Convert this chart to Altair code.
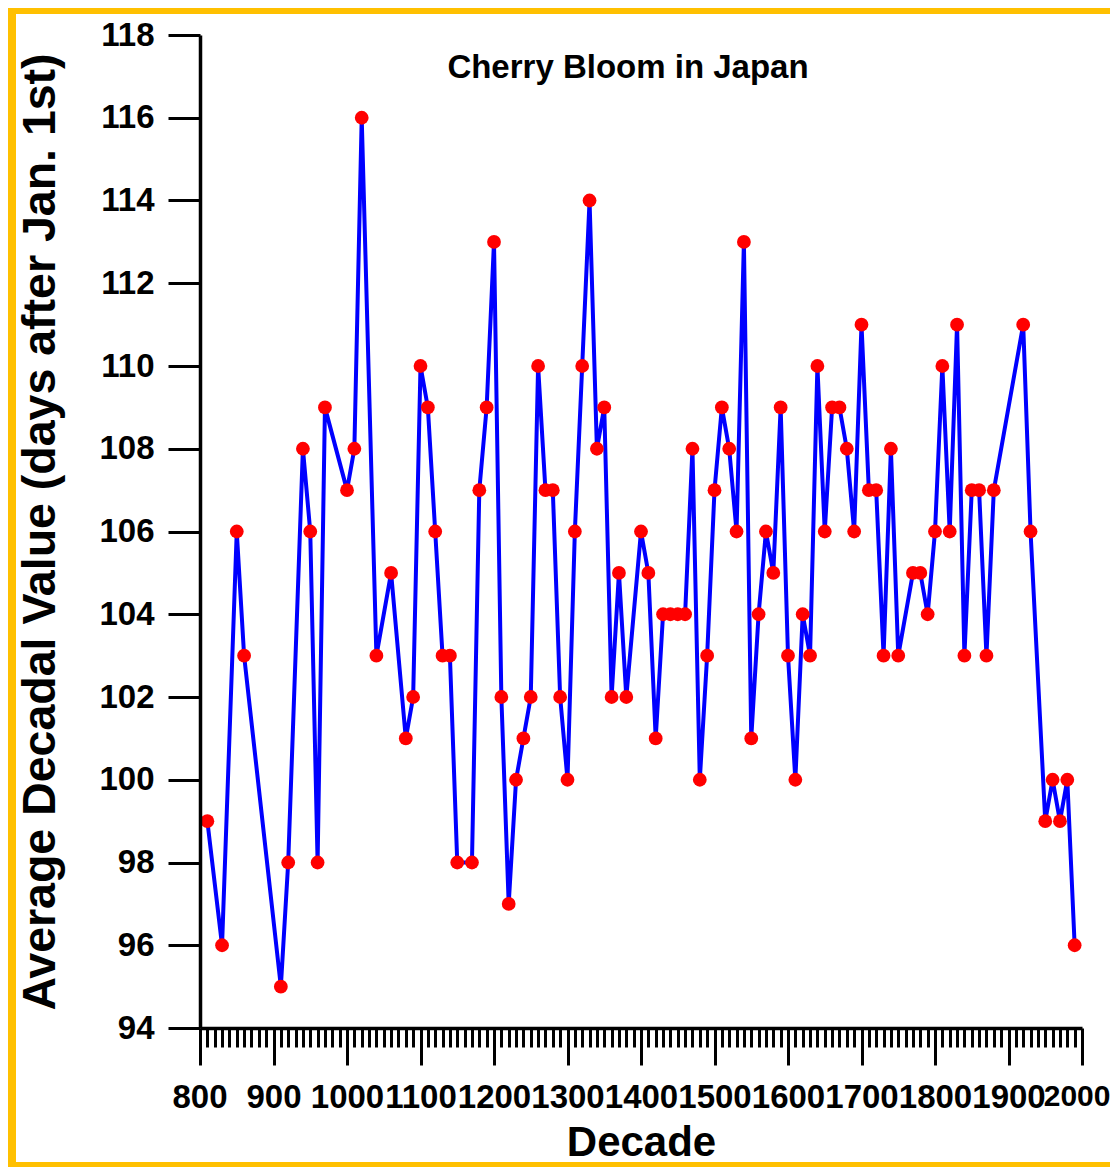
import altair as alt
import pandas as pd

decades = [810, 830, 850, 860, 910, 920, 940, 950, 960, 970,
           1000, 1010, 1020, 1040, 1060, 1080, 1090, 1100, 1110, 1120,
           1130, 1140, 1150, 1170, 1180, 1190, 1200, 1210, 1220, 1230,
           1240, 1250, 1260, 1270, 1280, 1290, 1300, 1310, 1320, 1330,
           1340, 1350, 1360, 1370, 1380, 1400, 1410, 1420, 1430, 1440,
           1450, 1460, 1470, 1480, 1490, 1500, 1510, 1520, 1530, 1540,
           1550, 1560, 1570, 1580, 1590, 1600, 1610, 1620, 1630, 1640,
           1650, 1660, 1670, 1680, 1690, 1700, 1710, 1720, 1730, 1740,
           1750, 1770, 1780, 1790, 1800, 1810, 1820, 1830, 1840, 1850,
           1860, 1870, 1880, 1920, 1930, 1950, 1960, 1970, 1980, 1990]
bloom_day = [99, 96, 106, 103, 95, 98, 108, 106, 98, 109,
             107, 108, 116, 103, 105, 101, 102, 110, 109, 106,
             103, 103, 98, 98, 107, 109, 113, 102, 97, 100,
             101, 102, 110, 107, 107, 102, 100, 106, 110, 114,
             108, 109, 102, 105, 102, 106, 105, 101, 104, 104,
             104, 104, 108, 100, 103, 107, 109, 108, 106, 113,
             101, 104, 106, 105, 109, 103, 100, 104, 103, 110,
             106, 109, 109, 108, 106, 111, 107, 107, 103, 108,
             103, 105, 105, 104, 106, 110, 106, 111, 103, 107,
             107, 103, 107, 111, 106, 99, 100, 99, 100, 96]

title_text = "Cherry Bloom in Japan"
x_title = "Decade"
y_title = "Average Decadal Value (days after Jan. 1st)"
y_ticks = list(range(94, 119, 2))
x_ticks = list(range(800, 2001, 10))

df = pd.DataFrame({"decade": decades, "value": bloom_day})

FONT = "Liberation Sans"
W, H = 882, 993

x_axis = alt.Axis(
    title=x_title,
    values=x_ticks,
    format="d",
    labelExpr="datum.value % 100 === 0 ? datum.label : ''",
    labelOverlap=False,
    labelFlush=True,
    labelFlushOffset=28,
    labelFont=FONT, labelFontWeight="bold", labelColor="black",
    labelFontSize={"condition": {"test": "datum.value === 2000", "value": 30}, "value": 33},
    labelPadding=16,
    tickSize={"condition": {"test": "datum.value % 100 === 0", "value": 37}, "value": 19},
    tickWidth=3, tickColor="black",
    domainColor="black", domainWidth=3.5,
    grid=False,
    titleFont=FONT, titleFontSize=42, titleFontWeight="bold", titleColor="black",
    titlePadding=8,
    zindex=1,
)
y_axis = alt.Axis(
    title=y_title,
    values=y_ticks,
    labelFont=FONT, labelFontSize=33, labelFontWeight="bold", labelColor="black",
    labelPadding=14,
    tickSize=32, tickWidth=3, tickColor="black",
    domainColor="black", domainWidth=3.5,
    grid=False,
    titleFont=FONT, titleFontSize=46.5, titleFontWeight="bold", titleColor="black",
    titlePadding=34,
    zindex=1,
)
x_scale = alt.Scale(domain=[800, 2000], nice=False, zero=False)
y_scale = alt.Scale(domain=[94, 118], nice=False, zero=False)

x_enc = alt.X("decade:Q", scale=x_scale, axis=x_axis)
y_enc = alt.Y("value:Q", scale=y_scale, axis=y_axis)

# white panel behind the chart (decorative frame)
panel = alt.Chart(df).mark_rect(color="white", clip=False).encode(
    x=alt.value(-184), x2=alt.value(W + 40), y=alt.value(-21), y2=alt.value(H + 134)
).transform_filter("datum.decade == 810")

line = alt.Chart(df).mark_line(color="#0000FF", strokeWidth=4).encode(x=x_enc, y=y_enc)
pts = alt.Chart(df).mark_circle(color="#FF0000", size=190, opacity=1).encode(x=x_enc, y=y_enc)

chart = alt.layer(panel, line, pts).properties(
    width=W, height=H,
    title=alt.TitleParams(
        title_text, font=FONT, fontSize=33, fontWeight="bold", color="black",
        anchor="middle", orient="top", offset=-97, baseline="alphabetic", dx=-13,
    ),
    autosize=alt.AutoSizeParams(type="none"),
    padding={"left": 192, "top": 27, "right": 28, "bottom": 139},
    background="#FFC000",
).configure_view(stroke=None)

chart.save("out.html", embed_options={"renderer": "svg", "actions": False})
